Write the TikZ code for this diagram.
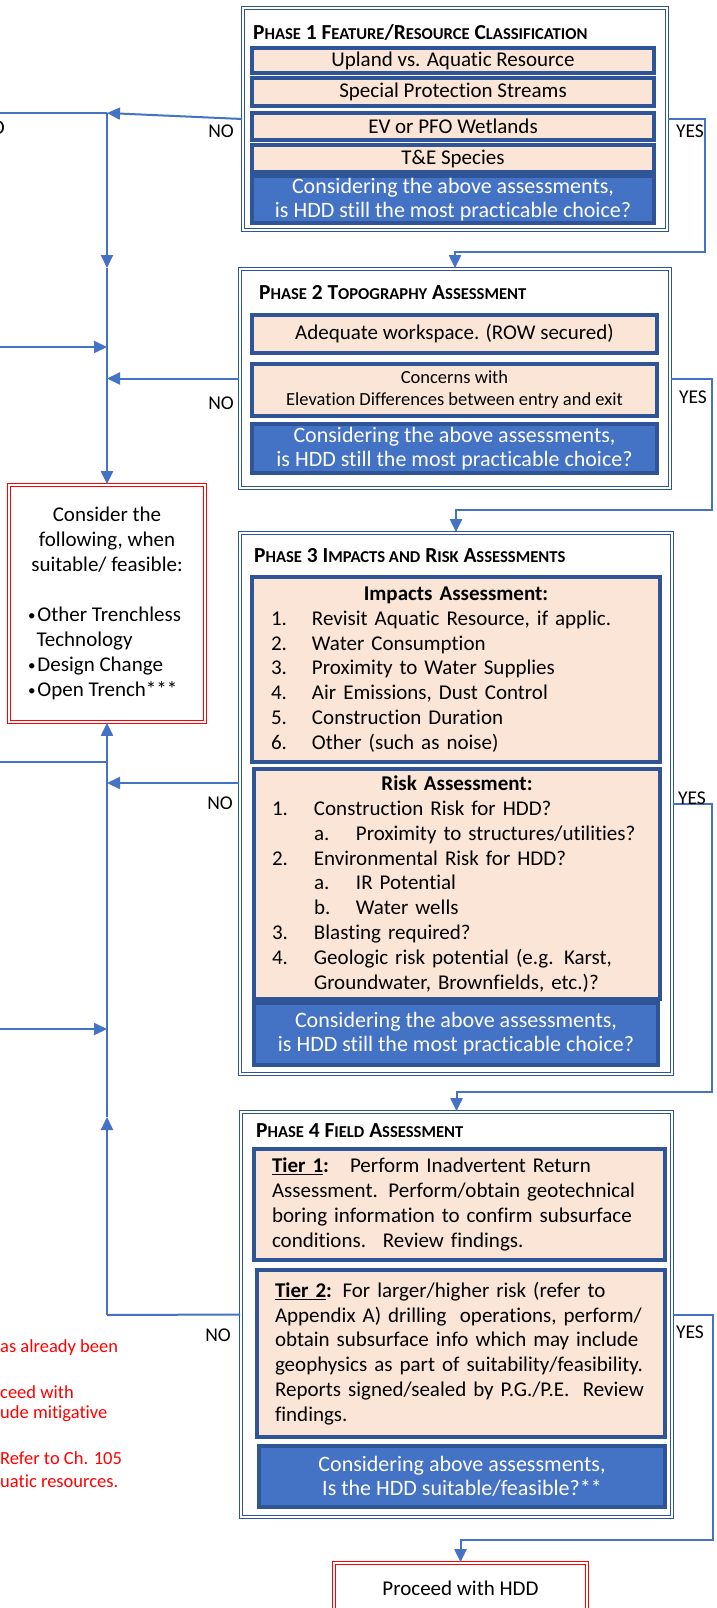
\documentclass[tikz,border=0pt]{standalone}
\usepackage{fontspec}
\setmainfont{Carlito}[Ligatures=NoCommon]
\usepackage{tikz}
\usetikzlibrary{arrows.meta, positioning, calc}
\definecolor{framenavy}{RGB}{47, 85, 151}
\definecolor{flowblue}{RGB}{68, 114, 196}
\definecolor{peach}{RGB}{251, 229, 214}
\definecolor{alertred}{RGB}{255, 0, 0}
\newcommand{\smallcap}[1]{{\fontsize{16.6}{18}\selectfont #1}}
\newcommand{\dotmark}{\raisebox{0.15ex}{\fontsize{15}{15}\selectfont •}\hspace{2pt}}

\begin{document}
\begin{tikzpicture}[x=1pt, y=-1pt,
    phasebox/.style={draw=framenavy, line width=1.7pt, double=white, double distance=1.4pt, fill=white, inner sep=0pt},
    rowbox/.style={draw=framenavy, line width=3.2pt, fill=peach, inner sep=0pt, font=\fontsize{21}{24.8}\selectfont},
    askbox/.style={draw=framenavy, line width=3.2pt, fill=flowblue, text=white, inner sep=0pt, align=center, font=\fontsize{22}{24}\selectfont},
    redbox/.style={draw=alertred, line width=1.7pt, double=white, double distance=1.4pt, fill=white, inner sep=0pt},
    flow/.style={draw=flowblue, line width=2pt},
    headed/.style={-{Triangle[length=13pt, width=12pt]}},
    answer/.style={inner sep=0pt, font=\fontsize{19.5}{22}\selectfont},
    phasetitle/.style={anchor=west, inner sep=0pt, font=\bfseries\fontsize{21.4}{22}\selectfont},
    note/.style={anchor=west, inner sep=0pt, text=alertred, font=\fontsize{18.5}{22}\selectfont}]
    \fill[white] (0,0) rectangle (717,1608);
    \useasboundingbox (0,0) rectangle (717,1608);

    % Phase 1 (Classification)
    \begin{scope}
        \node[phasebox, minimum width=424pt, minimum height=222pt] (phaseA) at (455,119) {};
        \node[phasetitle] (titleA) at (253,32) {P\smallcap{HASE} 1 F\smallcap{EATURE}/R\smallcap{ESOURCE} C\smallcap{LASSIFICATION}};
        \node[rowbox, minimum width=402pt, minimum height=25pt] (upland) at (453,60.5) {Upland vs. Aquatic Resource};
        \node[rowbox, minimum width=402pt, minimum height=28pt] (streams) at (453,92) {Special Protection Streams};
        \node[rowbox, minimum width=402pt, minimum height=27pt] (wetlands) at (453,126.5) {EV or PFO Wetlands};
        \node[rowbox, minimum width=402pt, minimum height=27pt] (species) at (453,158.5) {T\&E Species};
        \node[askbox, minimum width=402pt, minimum height=47pt] (askA) at (453,199.5) {Considering the above assessments,\\is HDD still the most practicable choice?};
    \end{scope}

    % Phase 2 (Topography)
    \begin{scope}
        \node[phasebox, minimum width=430pt, minimum height=219pt] (phaseB) at (455,378.5) {};
        \node[phasetitle] (titleB) at (259,293) {P\smallcap{HASE} 2 T\smallcap{OPOGRAPHY} A\smallcap{SSESSMENT}};
        \node[rowbox, minimum width=405pt, minimum height=38pt] (workspace) at (454.5,334) {Adequate workspace. (ROW secured)};
        \node[rowbox, minimum width=405pt, minimum height=52pt, align=center, font=\fontsize{18.5}{22}\selectfont] (elevation) at (454.5,390) {Concerns with\\Elevation Differences between entry and exit};
        \node[askbox, minimum width=405pt, minimum height=49pt] (askB) at (454.5,448.5) {Considering the above assessments,\\is HDD still the most practicable choice?};
    \end{scope}

    % Phase 3 (Impacts and risk)
    \begin{scope}
        \node[phasebox, minimum width=432pt, minimum height=541pt] (phaseC) at (456,803.5) {};
        \node[phasetitle] (titleC) at (254,556) {P\smallcap{HASE} 3 I\smallcap{MPACTS AND} R\smallcap{ISK} A\smallcap{SSESSMENTS}};
        \node[rowbox, minimum width=408pt, minimum height=185pt, inner xsep=19pt, text width=370pt, align=left] (impacts) at (456,669.5) {%
            \makebox[370pt][c]{\textbf{Impacts Assessment:}}\\
            \makebox[41pt][l]{1.}Revisit Aquatic Resource, if applic.\\
            \makebox[41pt][l]{2.}Water Consumption\\
            \makebox[41pt][l]{3.}Proximity to Water Supplies\\
            \makebox[41pt][l]{4.}Air Emissions, Dust Control\\
            \makebox[41pt][l]{5.}Construction Duration\\
            \makebox[41pt][l]{6.}Other (such as noise)};
        \node[rowbox, minimum width=406pt, minimum height=230pt, inner xsep=18pt, text width=370pt, align=left] (risk) at (457,884) {%
            \makebox[370pt][c]{\textbf{Risk Assessment:}}\\
            \makebox[42pt][l]{1.}Construction Risk for HDD?\\
            \hspace*{42pt}\makebox[42pt][l]{a.}Proximity to structures/utilities?\\
            \makebox[42pt][l]{2.}Environmental Risk for HDD?\\
            \hspace*{42pt}\makebox[42pt][l]{a.}IR Potential\\
            \hspace*{42pt}\makebox[42pt][l]{b.}Water wells\\
            \makebox[42pt][l]{3.}Blasting required?\\
            \makebox[42pt][l]{4.}Geologic risk potential (e.g. Karst,\\
            \hspace*{42pt}Groundwater, Brownfields, etc.)?};
        \node[askbox, minimum width=404pt, minimum height=62pt] (askC) at (456,1034) {Considering the above assessments,\\is HDD still the most practicable choice?};
    \end{scope}

    % Phase 4 (Field)
    \begin{scope}
        \node[phasebox, minimum width=431pt, minimum height=405pt] (phaseD) at (456.5,1314.5) {};
        \node[phasetitle] (titleD) at (256,1131) {P\smallcap{HASE} 4 F\smallcap{IELD} A\smallcap{SSESSMENT}};
        \node[rowbox, minimum width=411pt, minimum height=111pt, inner xsep=18pt, text width=375pt, align=left] (tierA) at (459.5,1204.5) {%
            \textbf{\underline{Tier 1}:}\hspace{0.5em} Perform Inadvertent Return\\
            Assessment. Perform/obtain geotechnical\\
            boring information to confirm subsurface\\
            conditions.\hspace{0.3em} Review findings.};
        \node[rowbox, minimum width=408pt, minimum height=167pt, inner xsep=18pt, text width=372pt, align=left] (tierB) at (461,1353.5) {%
            \textbf{\underline{Tier 2}:} For larger/higher risk (refer to\\
            Appendix A) drilling\hspace{0.3em} operations, perform/\\
            obtain subsurface info which may include\\
            geophysics as part of suitability/feasibility.\\
            Reports signed/sealed by P.G./P.E.\hspace{0.3em} Review\\
            findings.};
        \node[askbox, minimum width=406pt, minimum height=61pt] (askD) at (462,1476.5) {Considering above assessments,\\Is the HDD suitable/feasible?**};
    \end{scope}

    % Outcome boxes
    \node[redbox, minimum width=196pt, minimum height=237pt, align=center, font=\fontsize{21}{25}\selectfont] (consider) at (107,603.5) {%
        Consider the\\following, when\\suitable/ feasible:\\[25pt]
        \makebox[158pt][l]{\dotmark Other Trenchless}\\
        \makebox[158pt][l]{\hspace*{8.5pt}Technology}\\
        \makebox[158pt][l]{\dotmark Design Change}\\
        \makebox[158pt][l]{\dotmark Open Trench***}};
    \node[redbox, minimum width=253pt, minimum height=50pt, font=\fontsize{21}{25}\selectfont] (proceed) at (460.5,1588) {Proceed with HDD};

    % YES path (right side)
    \coordinate (yesA) at (705,252);
    \coordinate (yesB) at (712,510);
    \coordinate (yesC) at (712,1092);
    \coordinate (yesD) at (713,1540);
    \draw[flow, headed] (phaseA.east) -| (yesA) -| (phaseB.north);
    \draw[flow, headed] (phaseB.east) -| (yesB) -| (phaseC.north);
    \draw[flow, headed] (phaseC.east) -| (yesC) -| (phaseD.north);
    \draw[flow, headed] (phaseD.east) -| (yesD) -| (proceed.north);

    % NO path (left side)
    \coordinate (edgeA) at (0,113);
    \coordinate (trunkA) at (107,113);
    \coordinate (dropA) at (107,268);
    \coordinate (edgeB) at (0,347);
    \draw[flow] (edgeA) -- (trunkA);
    \draw[flow, headed] (phaseA.west) -- (trunkA);
    \draw[flow, headed] (trunkA) -- (dropA);
    \draw[flow, headed] (dropA) -- (consider.north);
    \draw[flow, headed] (edgeB) -- (edgeB -| trunkA);
    \draw[flow, headed] (phaseB.west) -- (phaseB.west -| trunkA);

    \coordinate (trunkB) at (107,1315);
    \coordinate (riseB) at (107,1117);
    \coordinate (edgeC) at (0,762);
    \coordinate (edgeD) at (0,1029);
    \coordinate (noC) at ([yshift=20.5pt]phaseC.west);
    \draw[flow] (phaseD.west) -- (trunkB);
    \draw[flow, headed] (trunkB) -- (riseB);
    \draw[flow, headed] (riseB) -- (consider.south);
    \draw[flow] (edgeC) -- (edgeC -| trunkB);
    \draw[flow, headed] (noC) -- (noC -| trunkB);
    \draw[flow, headed] (edgeD) -- (edgeD -| trunkB);

    % answer labels
    \node[answer] (noA) at (221,131) {NO};
    \node[answer] (noB) at (221,403) {NO};
    \node[answer] (noCl) at (220,803) {NO};
    \node[answer] (noD) at (218,1335) {NO};
    \node[answer] (yesAl) at (690,131) {YES};
    \node[answer] (yesBl) at (693,397) {YES};
    \node[answer] (yesCl) at (692,798) {YES};
    \node[answer] (yesDl) at (690,1332) {YES};

    % cut-off texts at the left edge
    \node[answer, anchor=east, font=\fontsize{21}{24}\selectfont] (cutD) at (5,128) {D};
    \node[note] (noteA) at (0,1348) {as already been};
    \node[note] (noteB) at (0,1392) {ceed with};
    \node[note] (noteC) at (0,1414) {ude mitigative};
    \node[note] (noteD) at (0,1458) {Refer to Ch. 105};
    \node[note] (noteE) at (0,1481) {uatic resources.};
\end{tikzpicture}
\end{document}
